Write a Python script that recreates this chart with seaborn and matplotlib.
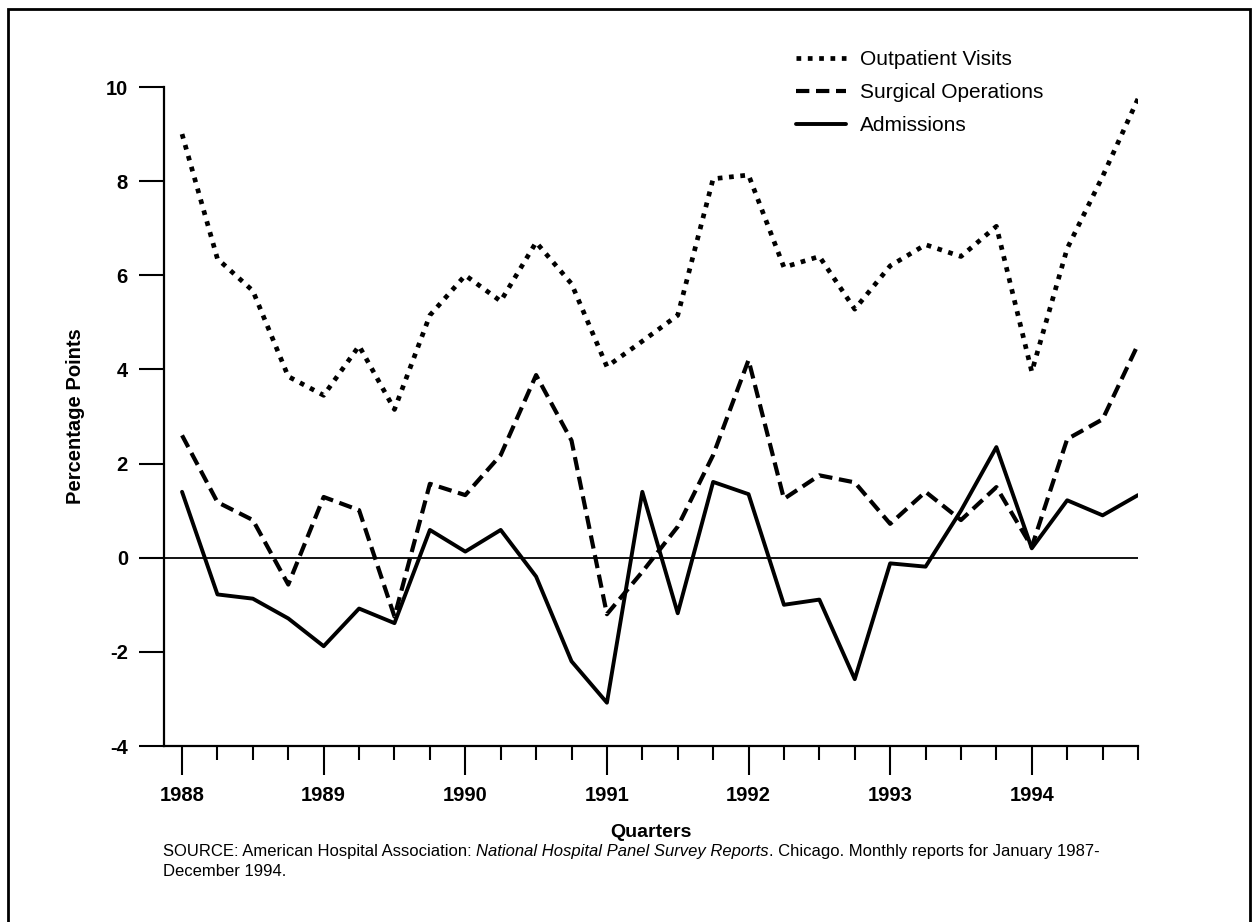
import numpy as np
import matplotlib
matplotlib.use("Agg")
import matplotlib.pyplot as plt
from matplotlib.patches import Rectangle
from matplotlib.ticker import MultipleLocator
import seaborn as sns

# quarterly change, percentage points, 1988 Q1 .. 1994 Q4
quarters = 1988 + np.arange(28) * 0.25
outpatient = [9.0, 6.35, 5.67, 3.85, 3.45, 4.5, 3.15, 5.15, 6.0, 5.45, 6.7, 5.82, 4.06, 4.6,
              5.15, 8.05, 8.13, 6.17, 6.4, 5.28, 6.2, 6.65, 6.4, 7.04, 3.95, 6.57, 8.1, 9.75]
surgical = [2.6, 1.18, 0.8, -0.57, 1.29, 1.01, -1.25, 1.57, 1.33, 2.18, 3.88, 2.49, -1.2, -0.3,
            0.66, 2.18, 4.2, 1.25, 1.75, 1.6, 0.72, 1.4, 0.8, 1.5, 0.23, 2.52, 2.94, 4.53]
admissions = [1.4, -0.78, -0.87, -1.29, -1.88, -1.08, -1.39, 0.59, 0.13, 0.59, -0.4, -2.2, -3.08, 1.4,
              -1.18, 1.61, 1.35, -1.0, -0.89, -2.58, -0.12, -0.19, 1.0, 2.35, 0.2, 1.22, 0.9, 1.33]
year_ticks = [1988, 1989, 1990, 1991, 1992, 1993, 1994]
y_ticks = [-4, -2, 0, 2, 4, 6, 8, 10]

sns.set_style("ticks")
plt.rcParams['font.family'] = ['Liberation Sans', 'DejaVu Sans']
plt.rcParams['text.color'] = 'black'
plt.rcParams['axes.labelcolor'] = 'black'

W, H = 1257, 922
fig = plt.figure(figsize=(W / 100, H / 100), dpi=100)
ax = fig.add_axes([164 / W, 1 - 746 / H, (1138 - 164) / W, (746 - 87) / H])

sns.lineplot(x=quarters, y=outpatient, ax=ax, color='black', linewidth=3.4,
             linestyle=(0, (1.0, 1.4)), label='Outpatient Visits')
sns.lineplot(x=quarters, y=surgical, ax=ax, color='black', linewidth=3.0,
             linestyle=(0, (3.2, 1.6)), label='Surgical Operations')
sns.lineplot(x=quarters, y=admissions, ax=ax, color='black', linewidth=2.8,
             linestyle='-', label='Admissions')
ax.axhline(0, color='black', linewidth=1.3, zorder=1)

ax.set_xlim(1988 - 18 / 141.3, 1994.75)
ax.set_ylim(-4, 10)
ax.set_xticks(year_ticks)
ax.set_xticklabels([str(y) for y in year_ticks])
ax.xaxis.set_minor_locator(MultipleLocator(0.25))
ax.set_yticks(y_ticks)
ax.set_yticklabels([str(v) for v in y_ticks])
ax.tick_params(axis='x', which='major', length=21, width=1.5, direction='out', pad=8,
               labelsize=14.5, colors='black')
ax.tick_params(axis='x', which='minor', length=10, width=1.5, direction='out', colors='black')
ax.tick_params(axis='y', length=18, width=1.5, direction='out', pad=8, labelsize=14.5,
               colors='black')
for lab in ax.get_xticklabels() + ax.get_yticklabels():
    lab.set_fontweight('bold')

sns.despine(ax=ax)
for s in ['left', 'bottom']:
    ax.spines[s].set_linewidth(1.6)
    ax.spines[s].set_color('black')

ax.set_xlabel('Quarters', fontsize=14, fontweight='bold')
ax.set_ylabel('Percentage Points', fontsize=14.5, fontweight='bold')
ax.xaxis.set_label_coords(0.5, -(824 - 746) / (746 - 87))
ax.yaxis.set_label_coords(-(164 - 85) / (1138 - 164), 0.5)

leg = ax.legend(loc='upper left', bbox_to_anchor=(796 / W, 1 - 50 / H),
                bbox_transform=fig.transFigure, frameon=False, fontsize=15,
                handlelength=2.4, handletextpad=0.65, labelspacing=0.68,
                borderpad=0, borderaxespad=0)

# outer frame (bottom edge is cut off in the scan)
fig.add_artist(Rectangle((8 / W, -0.02), (1250 - 8) / W, 1 - 9 / H + 0.02,
                         transform=fig.transFigure, fill=False,
                         edgecolor='black', linewidth=2))

# source note with an italic title
fig.canvas.draw()
renderer = fig.canvas.get_renderer()
x0, y0 = 163 / W, 1 - 851 / H
pieces = [("SOURCE: American Hospital Association: ", 'normal'),
          ("National Hospital Panel Survey Reports", 'italic'),
          (". Chicago. Monthly reports for January 1987-", 'normal')]
x = x0
for txt, st in pieces:
    t = fig.text(x, y0, txt, fontsize=12, style=st, va='center', ha='left')
    bb = t.get_window_extent(renderer)
    x = bb.x1 / W
fig.text(x0, 1 - 871 / H, "December 1994.", fontsize=12, va='center', ha='left')

fig.savefig('out.png', dpi=100, facecolor='white')
